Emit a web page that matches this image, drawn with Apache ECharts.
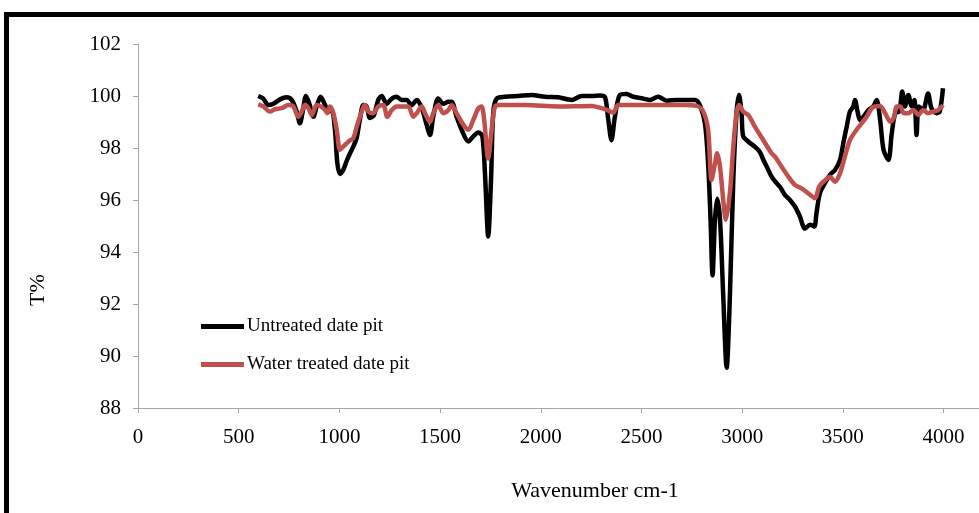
<!DOCTYPE html>
<html>
<head>
<meta charset="utf-8">
<script src="https://cdn.jsdelivr.net/npm/echarts@6/dist/echarts.min.js"></script>
<style>
  html, body { margin: 0; padding: 0; background: #fff; }
  #chart { width: 979px; height: 513px; }
</style>
</head>
<body>
<div id="chart"></div>
<script>
// FTIR transmittance spectra of date pit samples
const untreatedWave = [597,622,647,672,705,738,763,788,804,818,834,851,871,887,907,929,945,962,978,990,1003,1019,1036,1053,1069,1086,1102,1119,1135,1152,1172,1193,1210,1235,1260,1284,1309,1334,1359,1384,1400,1417,1433,1450,1466,1491,1516,1541,1557,1582,1607,1640,1665,1690,1710,1723,1739,1753,1764,1781,1822,1888,1955,2021,2087,2153,2203,2253,2294,2319,2335,2351,2368,2393,2426,2459,2509,2542,2583,2625,2675,2724,2766,2790,2815,2831,2843,2853,2865,2876,2890,2906,2923,2939,2956,2972,2984,2997,3005,3030,3063,3088,3105,3121,3146,3171,3188,3212,3237,3262,3287,3312,3337,3358,3369,3386,3411,3436,3461,3486,3502,3519,3535,3552,3560,3573,3585,3602,3627,3651,3668,3685,3702,3726,3743,3760,3780,3795,3808,3825,3842,3855,3866,3877,3898,3923,3940,3965,3981,3997];
const untreatedT = [100.0,99.9,99.65,99.7,99.87,99.95,99.85,99.4,98.95,99.4,100.0,99.7,99.2,99.6,99.97,99.65,99.4,99.45,98.7,97.4,97.0,97.15,97.5,97.8,98.05,98.4,99.1,99.65,99.6,99.15,99.27,99.85,100.0,99.7,99.9,99.97,99.85,99.85,99.65,99.85,99.7,99.35,98.9,98.5,99.2,99.9,99.7,99.78,99.78,99.2,98.7,98.25,98.45,98.6,98.45,97.0,94.6,96.8,99.35,99.9,99.97,100.0,100.04,99.97,99.95,99.85,100.0,100.0,100.02,99.95,99.1,98.3,99.2,100.04,100.08,99.97,99.9,99.85,99.97,99.82,99.85,99.85,99.85,99.65,98.95,97.4,95.25,93.1,95.25,96.05,95.25,92.3,89.55,92.3,96.8,99.35,100.04,99.35,98.45,98.25,98.05,97.85,97.55,97.3,96.9,96.65,96.5,96.2,96.0,95.75,95.36,94.9,95.05,94.98,95.5,96.26,96.65,96.97,97.15,97.54,98.18,98.82,99.4,99.6,99.85,99.4,99.08,99.2,99.46,99.6,99.85,99.08,97.93,97.54,98.57,99.34,99.4,100.17,99.6,100.04,99.6,99.85,98.5,99.6,99.46,100.1,99.53,99.34,99.4,100.3];

const waterWave = [597,622,655,680,714,746,771,796,813,829,846,863,887,907,929,940,953,970,987,1003,1019,1036,1053,1069,1086,1102,1127,1144,1168,1193,1218,1238,1260,1284,1317,1342,1367,1384,1409,1425,1450,1466,1491,1516,1541,1557,1582,1615,1640,1665,1690,1706,1719,1739,1756,1773,1797,1922,2087,2253,2294,2335,2360,2385,2542,2708,2774,2807,2831,2848,2865,2876,2890,2906,2919,2939,2956,2972,2985,3005,3030,3063,3105,3146,3163,3196,3229,3262,3295,3328,3361,3382,3403,3436,3461,3486,3510,3535,3568,3593,3618,3643,3660,3685,3710,3735,3752,3768,3785,3802,3825,3850,3875,3898,3923,3948,3973,3997];
const waterT = [99.68,99.6,99.4,99.49,99.53,99.65,99.6,99.2,99.4,99.65,99.53,99.27,99.65,99.6,99.46,99.34,99.6,99.34,98.7,97.93,98.05,98.18,98.3,98.37,98.82,99.2,99.65,99.4,99.34,99.6,99.65,99.2,99.46,99.6,99.6,99.6,99.2,99.34,99.6,99.34,99.0,99.34,99.65,99.34,99.46,99.65,99.34,98.9,98.7,99.08,99.53,99.6,99.08,97.6,98.7,99.6,99.65,99.65,99.6,99.62,99.55,99.44,99.36,99.65,99.65,99.65,99.62,99.4,98.7,96.77,97.4,97.8,97.28,96.0,95.24,96.26,98.05,99.34,99.65,99.4,99.27,98.82,98.3,97.8,97.67,97.28,96.9,96.58,96.45,96.26,96.07,96.51,96.7,96.88,96.7,97.03,97.67,98.3,98.7,98.95,99.2,99.53,99.6,99.62,99.34,99.01,99.15,99.6,99.6,99.34,99.34,99.46,99.27,99.46,99.34,99.4,99.46,99.65];

// the wavenumber axis is cut off by the right edge of the frame
const xTicks = { min: 0, max: 4176, step: 500 };
const yTicks = { min: 88, max: 102, step: 2 };

const pairs = (xs, ys) => xs.map((x, i) => [x, ys[i]]);

const serif = 'Liberation Serif, Times New Roman, serif';
const axisGray = '#a6a6a6';

const chart = echarts.init(document.getElementById('chart'));
chart.setOption({
  animation: false,
  backgroundColor: '#ffffff',
  grid: { left: 138, top: 44, right: 0, height: 364, containLabel: false, outerBoundsMode: 'none' },
  xAxis: {
    type: 'value',
    min: xTicks.min, max: xTicks.max, interval: xTicks.step,
    axisLine: { show: true, onZero: false, lineStyle: { color: axisGray, width: 1 } },
    axisTick: { show: true, length: 5, lineStyle: { color: axisGray } },
    axisLabel: {
      fontFamily: serif, fontSize: 21, color: '#000', margin: 19,
      showMaxLabel: false,
      formatter: v => (v % xTicks.step === 0 ? String(v) : '')
    },
    splitLine: { show: false }
  },
  yAxis: {
    type: 'value',
    min: yTicks.min, max: yTicks.max, interval: yTicks.step,
    axisLine: { show: true, lineStyle: { color: axisGray, width: 1 } },
    axisTick: { show: true, length: 5, lineStyle: { color: axisGray } },
    axisLabel: { fontFamily: serif, fontSize: 21, color: '#000', margin: 17, formatter: v => String(v) },
    splitLine: { show: false }
  },
  legend: {
    orient: 'vertical',
    left: 201,
    top: 317,
    padding: 0,
    icon: 'rect',
    itemWidth: 43,
    itemHeight: 5,
    itemGap: 19,
    textStyle: { fontFamily: serif, fontSize: 19, color: '#000', padding: [0, 0, 0, -2] },
    data: ['Untreated date pit', 'Water treated date pit']
  },
  graphic: [
    {
      type: 'rect',
      silent: true,
      shape: { x: 6.5, y: 14.5, width: 1100, height: 700 },
      style: { fill: 'none', stroke: '#000', lineWidth: 5 }
    },
    {
      // axis title centred under the 0–4500 span of the wavenumber scale
      type: 'text',
      silent: true,
      x: 595,
      y: 491,
      style: {
        text: 'Wavenumber cm-1',
        font: '22px ' + serif,
        fill: '#000',
        align: 'center',
        verticalAlign: 'middle'
      }
    },
    {
      type: 'text',
      silent: true,
      x: 38,
      y: 290,
      rotation: Math.PI / 2,
      style: {
        text: 'T%',
        font: '22px ' + serif,
        fill: '#000',
        align: 'center',
        verticalAlign: 'middle'
      }
    }
  ],
  series: [
    {
      name: 'Untreated date pit',
      type: 'line',
      data: pairs(untreatedWave, untreatedT),
      smooth: 0.3,
      showSymbol: false,
      lineStyle: { color: '#000000', width: 4.5 },
      itemStyle: { color: '#000000' }
    },
    {
      name: 'Water treated date pit',
      type: 'line',
      data: pairs(waterWave, waterT),
      smooth: 0.3,
      showSymbol: false,
      lineStyle: { color: '#c0504d', width: 4.5 },
      itemStyle: { color: '#c0504d' }
    }
  ]
});
</script>
</body>
</html>
